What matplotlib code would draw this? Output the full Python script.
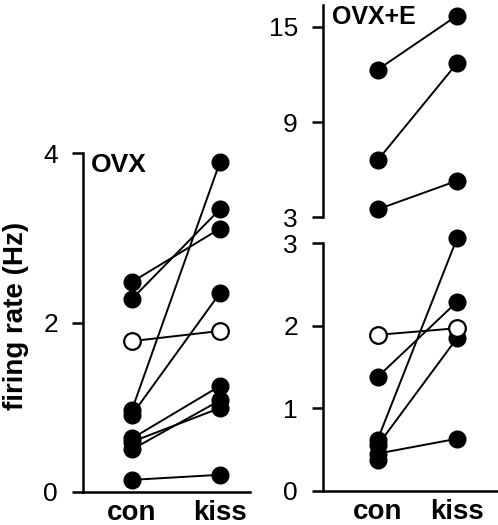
import matplotlib
matplotlib.use('Agg')
import numpy as np
import matplotlib.pyplot as plt

plt.rcParams['font.family'] = ['Liberation Sans', 'DejaVu Sans']

# OVX group: paired con -> kiss values (Hz)
ovx_con = [2.48, 2.28, 0.97, 0.91, 0.63, 0.59, 0.50, 0.14]
ovx_kiss = [3.11, 3.34, 3.90, 2.35, 1.25, 0.99, 1.08, 0.20]
ovx_open_con = [1.78]
ovx_open_kiss = [1.90]

# OVX+E group, high-rate cells (upper axis)
e_hi_con = [12.3, 6.6, 3.5]
e_hi_kiss = [15.7, 12.7, 5.3]
# OVX+E group, low-rate cells (lower axis); last con cell has no visible partner
e_lo_con = [1.38, 0.62, 0.55, 0.45, 0.37]
e_lo_kiss = [2.29, 3.06, 1.85, 0.63, np.nan]
e_open_con = [1.89]
e_open_kiss = [1.97]

groups = ['con', 'kiss']

W, H = 498, 525
fig = plt.figure(figsize=(W / 100, H / 100), dpi=100)

lw_spine = 1.8
ms = 12
tick_fs = 19
lab_fs = 20


def px_axes(left, right, top, bottom):
    return fig.add_axes([left / W, (H - bottom) / H, (right - left) / W, (bottom - top) / H])


def style(ax, bottom=True):
    for s in ['top', 'right']:
        ax.spines[s].set_visible(False)
    ax.spines['left'].set_linewidth(lw_spine)
    ax.spines['bottom'].set_linewidth(lw_spine)
    ax.tick_params(axis='y', length=8, width=lw_spine, pad=10, labelsize=tick_fs)
    if bottom:
        ax.set_xticks([0, 1])
        ax.set_xticklabels(groups, fontsize=lab_fs, fontweight='bold')
        ax.tick_params(axis='x', length=0, pad=6)
    else:
        ax.spines['bottom'].set_visible(False)
        ax.set_xticks([])


def pairs(ax, con, kiss, open_con=None, open_kiss=None):
    for c, k in zip(con, kiss):
        ax.plot([0, 1], [c, k], color='black', lw=1.4, zorder=2, clip_on=False)
    ax.plot(np.zeros(len(con)), con, 'o', color='black', ms=ms, zorder=3, clip_on=False)
    ax.plot(np.ones(len(kiss)), kiss, 'o', color='black', ms=ms, zorder=3, clip_on=False)
    if open_con is not None:
        for c, k in zip(open_con, open_kiss):
            ax.plot([0, 1], [c, k], color='black', lw=1.4, zorder=4, clip_on=False)
            ax.plot([0, 1], [c, k], 'o', mfc='white', mec='black', mew=1.6,
                    ms=ms, zorder=5, clip_on=False)


# left panel: OVX
ax1 = px_axes(83, 250, 153.3, 491.7)
pairs(ax1, ovx_con, ovx_kiss, ovx_open_con, ovx_open_kiss)
ax1.set_xlim(-0.557, 1.34)
ax1.set_ylim(0, 4)
ax1.set_yticks([0, 2, 4])
style(ax1)
ax1.text(0.05, 1.0, 'OVX', transform=ax1.transAxes, fontsize=19,
         fontweight='bold', va='top', ha='left')

# right panel: OVX+E, broken axis
ax_lo = px_axes(323, 498, 243.3, 490.7)
pairs(ax_lo, e_lo_con, e_lo_kiss, e_open_con, e_open_kiss)
ax_lo.set_xlim(-0.69, 1.517)
ax_lo.set_ylim(0, 3)
ax_lo.set_yticks([0, 1, 2, 3])
style(ax_lo)

ax_hi = px_axes(323, 498, 5, 217.3)
pairs(ax_hi, e_hi_con, e_hi_kiss)
ax_hi.set_xlim(-0.69, 1.517)
ax_hi.set_ylim(3, 16.37)
ax_hi.set_yticks([3, 9, 15])
style(ax_hi, bottom=False)
ax_hi.patch.set_visible(False)
ax_hi.text(0.05, 1.0, 'OVX+E', transform=ax_hi.transAxes, fontsize=18,
           fontweight='bold', va='top', ha='left')

fig.text(16 / W, (H - 316) / H, 'firing rate (Hz)', rotation=90, fontsize=lab_fs,
         fontweight='bold', ha='center', va='center')

fig.savefig('out.png', dpi=100)
